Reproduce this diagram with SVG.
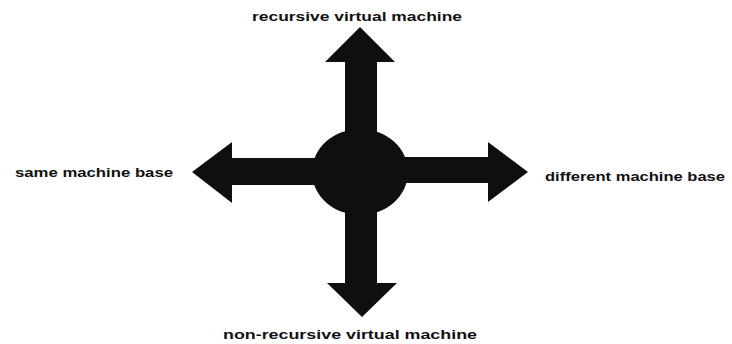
<svg xmlns="http://www.w3.org/2000/svg" width="732" height="344" viewBox="0 0 732 344">
<style>
.blk{fill:#0f0f0f;stroke:none}
.lbl{font-family:"Liberation Sans",Arial,sans-serif;font-weight:bold;font-size:13px;fill:#111}
</style>
<rect width="732" height="344" fill="#ffffff"/>
<g id="connectors">
<path class="blk" d="M345,150 L345,62 L325,62 L360,27 L395,62 L377,62 L377,150 Z"/>
<path class="blk" d="M345,195 L345,283 L327,283 L362,317 L397,283 L377,283 L377,195 Z"/>
<path class="blk" d="M330,158 L232,158 L232,142 L192,172 L232,203 L232,185 L330,185 Z"/>
<path class="blk" d="M390,157 L488,157 L488,142 L528,172 L488,202 L488,183 L390,183 Z"/>
</g>
<g id="hub"><ellipse class="blk" cx="360" cy="172" rx="48" ry="43"/></g>
<g id="top"><text class="lbl" x="252" y="21" textLength="210" lengthAdjust="spacingAndGlyphs">recursive virtual machine</text></g>
<g id="bottom"><text class="lbl" x="223" y="339" textLength="254" lengthAdjust="spacingAndGlyphs">non-recursive virtual machine</text></g>
<g id="left"><text class="lbl" x="15" y="177" textLength="158" lengthAdjust="spacingAndGlyphs">same machine base</text></g>
<g id="right"><text class="lbl" x="545" y="181" textLength="180" lengthAdjust="spacingAndGlyphs">different machine base</text></g>
</svg>
